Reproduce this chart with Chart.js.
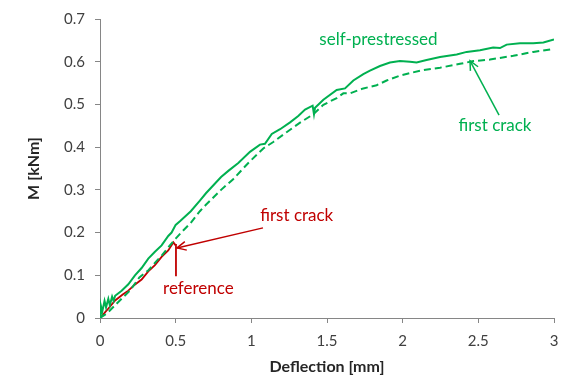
<!DOCTYPE html>
<html>
<head>
<meta charset="utf-8">
<script src="https://cdn.jsdelivr.net/npm/chart.js@4/dist/chart.umd.min.js"></script>
<style>
html,body{margin:0;padding:0;background:#fff;}
#wrap{width:570px;height:380px;position:relative;}
</style>
</head>
<body>
<div id="wrap"><canvas id="c" width="570" height="380"></canvas></div>
<script>
// ---- data ----
const xTicks = [0, 0.5, 1, 1.5, 2, 2.5, 3];
const yTicks = [0, 0.1, 0.2, 0.3, 0.4, 0.5, 0.6, 0.7];

const solidX = [0, 0.005, 0.015, 0.03, 0.04, 0.055, 0.065, 0.08, 0.09, 0.1, 0.143, 0.187, 0.231, 0.275, 0.319, 0.363, 0.407, 0.451, 0.473, 0.5, 0.53, 0.6, 0.66, 0.7, 0.8, 0.85, 0.914, 0.991, 1.057, 1.09, 1.135, 1.19, 1.256, 1.31, 1.355, 1.405, 1.414, 1.421, 1.476, 1.564, 1.619, 1.674, 1.74, 1.784, 1.85, 1.916, 1.982, 2.048, 2.092, 2.158, 2.247, 2.357, 2.423, 2.511, 2.598, 2.643, 2.687, 2.775, 2.863, 2.93, 3.0];
const solidY = [0, 0.03, 0.015, 0.04, 0.025, 0.045, 0.03, 0.05, 0.04, 0.052, 0.064, 0.079, 0.1, 0.117, 0.139, 0.155, 0.17, 0.192, 0.2, 0.218, 0.227, 0.25, 0.275, 0.292, 0.33, 0.345, 0.363, 0.389, 0.406, 0.408, 0.431, 0.442, 0.458, 0.473, 0.488, 0.497, 0.477, 0.492, 0.511, 0.534, 0.5375, 0.556, 0.571, 0.579, 0.59, 0.598, 0.6015, 0.600, 0.598, 0.604, 0.611, 0.617, 0.623, 0.627, 0.633, 0.632, 0.64, 0.643, 0.643, 0.645, 0.652];

const dashedX = [0, 0.05, 0.1, 0.143, 0.2, 0.26, 0.32, 0.37, 0.41, 0.45, 0.5, 0.55, 0.6, 0.66, 0.7, 0.8, 0.88, 0.98, 1.079, 1.145, 1.233, 1.322, 1.41, 1.476, 1.564, 1.608, 1.652, 1.74, 1.828, 1.894, 1.982, 2.115, 2.247, 2.379, 2.467, 2.577, 2.731, 2.863, 3.0];
const dashedY = [0, 0.012, 0.03, 0.045, 0.065, 0.095, 0.112, 0.132, 0.147, 0.165, 0.186, 0.205, 0.223, 0.25, 0.265, 0.3, 0.325, 0.363, 0.397, 0.412, 0.435, 0.4575, 0.477, 0.499, 0.515, 0.526, 0.526, 0.5375, 0.545, 0.556, 0.5675, 0.579, 0.586, 0.595, 0.6015, 0.605, 0.614, 0.623, 0.63];

const refX = [0, 0.05, 0.1, 0.15, 0.187, 0.23, 0.275, 0.319, 0.363, 0.407, 0.451, 0.478, 0.485, 0.5];
const refY = [0, 0.02, 0.041, 0.055, 0.064, 0.078, 0.09, 0.109, 0.124, 0.143, 0.158, 0.173, 0.177, 0.17];

// annotation leader for "reference"
const refLeaderX = [0.502, 0.502];
const refLeaderY = [0.173, 0.098];

// text annotations (data units)
const noteTexts = ['self-prestressed', 'first crack', 'first crack', 'reference'];
const noteX = [1.84, 2.61, 1.30, 0.65];
const noteY = [0.652, 0.45, 0.239, 0.068];
const noteColor = ['#00B050', '#00B050', '#C00000', '#C00000'];

// arrows (data units): from -> to (tip)
const arrowFromX = [2.637, 1.077];
const arrowFromY = [0.475, 0.211];
const arrowToX = [2.445, 0.509];
const arrowToY = [0.602, 0.164];
const arrowColor = ['#00B050', '#C00000'];

const GREEN = '#00B050';
const RED = '#C00000';

function pts(xs, ys) { return xs.map((x, i) => ({x: x, y: ys[i]})); }

const notesPlugin = {
  id: 'notes',
  afterDatasetsDraw(chart) {
    const ctx = chart.ctx, sx = chart.scales.x, sy = chart.scales.y;
    ctx.save();
    for (let i = 0; i < arrowFromX.length; i++) {
      const x1 = sx.getPixelForValue(arrowFromX[i]), y1 = sy.getPixelForValue(arrowFromY[i]);
      const x2 = sx.getPixelForValue(arrowToX[i]), y2 = sy.getPixelForValue(arrowToY[i]);
      ctx.strokeStyle = arrowColor[i];
      ctx.lineWidth = 1.5;
      ctx.beginPath(); ctx.moveTo(x1, y1); ctx.lineTo(x2, y2); ctx.stroke();
      const a = Math.atan2(y2 - y1, x2 - x1), L = 10, w = 0.45;
      ctx.beginPath();
      ctx.moveTo(x2 - L * Math.cos(a - w), y2 - L * Math.sin(a - w));
      ctx.lineTo(x2, y2);
      ctx.lineTo(x2 - L * Math.cos(a + w), y2 - L * Math.sin(a + w));
      ctx.stroke();
    }
    ctx.font = '17px Lato';
    ctx.textAlign = 'center';
    ctx.textBaseline = 'middle';
    for (let i = 0; i < noteTexts.length; i++) {
      ctx.fillStyle = noteColor[i];
      ctx.fillText(noteTexts[i], sx.getPixelForValue(noteX[i]), sy.getPixelForValue(noteY[i]));
    }
    ctx.restore();
  }
};

new Chart(document.getElementById('c'), {
  type: 'line',
  data: {
    datasets: [
      {label: 'self-prestressed', data: pts(solidX, solidY), borderColor: GREEN, borderWidth: 2, pointRadius: 0, tension: 0, fill: false},
      {label: 'self-prestressed (dashed)', data: pts(dashedX, dashedY), borderColor: GREEN, borderWidth: 2, borderDash: [7, 4], pointRadius: 0, tension: 0, fill: false},
      {label: 'reference', data: pts(refX, refY), borderColor: RED, borderWidth: 1.8, pointRadius: 0, tension: 0, fill: false},
      {label: 'reference leader', data: pts(refLeaderX, refLeaderY), borderColor: RED, borderWidth: 1.8, pointRadius: 0, tension: 0, fill: false}
    ]
  },
  options: {
    responsive: false,
    animation: false,
    devicePixelRatio: 1,
    layout: {padding: {left: 0, right: 16, top: 10, bottom: 0}},
    plugins: {legend: {display: false}, tooltip: {enabled: false}},
    scales: {
      x: {
        type: 'linear', min: 0, max: 3,
        afterBuildTicks: (s) => { s.ticks = xTicks.map(v => ({value: v})); },
        afterFit: (s) => { s.height = 62; },
        grid: {drawOnChartArea: false, drawTicks: true, tickLength: 5, color: '#868686'},
        border: {color: '#868686', width: 1},
        ticks: {color: '#404040', font: {family: 'Lato', size: 15}, padding: 9, maxRotation: 0,
                callback: (v) => String(v)},
        title: {display: true, text: 'Deflection [mm]', color: '#262626',
                font: {family: 'Lato', size: 16, weight: 'bold'}, padding: {top: 0, bottom: 4}}
      },
      y: {
        type: 'linear', min: 0, max: 0.7,
        afterBuildTicks: (s) => { s.ticks = yTicks.map(v => ({value: v})); },
        afterFit: (s) => { s.width = 100; },
        grid: {drawOnChartArea: false, drawTicks: true, tickLength: 5, color: '#868686'},
        border: {color: '#868686', width: 1},
        ticks: {color: '#404040', font: {family: 'Lato', size: 15}, padding: 10,
                callback: (v) => String(v)},
        title: {display: true, text: 'M [kNm]', color: '#262626',
                font: {family: 'Lato', size: 16, weight: 'bold'}, padding: {top: 24, bottom: 0}}
      }
    }
  },
  plugins: [notesPlugin]
});
</script>
</body>
</html>
